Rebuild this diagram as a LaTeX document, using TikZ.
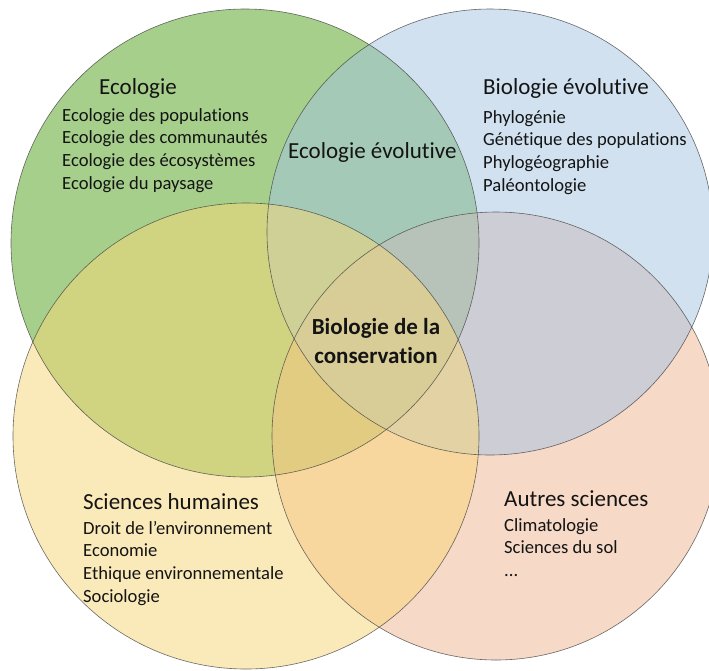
\documentclass[tikz,border=0pt]{standalone}
\usepackage{fontspec}
\setmainfont[Ligatures={NoCommon}]{Carlito}
\definecolor{cgreen}{RGB}{81,161,27}
\definecolor{cblue}{RGB}{165,197,227}
\definecolor{cyellow}{RGB}{249,215,117}
\definecolor{corange}{RGB}{239,181,145}
\definecolor{cline}{RGB}{70,70,70}
\definecolor{ctext}{RGB}{20,20,20}
\tikzset{
  venn/.style={fill=#1, fill opacity=0.5, draw=none},
  vennline/.style={draw=cline, line width=0.6pt, draw opacity=0.8},
  title/.style={anchor=base west, inner sep=0pt, font=\fontsize{23}{28}\selectfont, text=ctext},
  item/.style={anchor=base west, inner sep=0pt, font=\fontsize{18.6}{22.7}\selectfont, text=ctext},
  centre/.style={anchor=base, inner sep=0pt, font=\fontsize{23}{28}\selectfont\bfseries, text=ctext}
}
\begin{document}
\begin{tikzpicture}[x=1pt,y=-1pt]
\useasboundingbox (0,0) rectangle (709,670);
\fill[white] (0,0) rectangle (709,670);
\begin{scope}
\clip (0,0) rectangle (709,670);
\fill[venn=cgreen] (245,243) circle[radius=234pt];
\fill[venn=corange] (496,436) circle[radius=224pt];
\fill[venn=cblue] (490,232) circle[radius=223pt];
\fill[venn=cyellow] (246,436) circle[radius=233pt];
\draw[vennline] (245,243) circle[radius=234pt];
\draw[vennline] (496,436) circle[radius=224pt];
\draw[vennline] (490,232) circle[radius=223pt];
\draw[vennline] (246,436) circle[radius=233pt];
\end{scope}
% Ecologie
\node[title] (eco) at (99,94) {Ecologie};
\node[item] (eco1) at (62,121) {Ecologie des populations};
\node[item] (eco2) at (62,143.7) {Ecologie des communautés};
\node[item] (eco3) at (62,166.4) {Ecologie des écosystèmes};
\node[item] (eco4) at (62,189.1) {Ecologie du paysage};
% Ecologie evolutive
\node[title] (ecoevo) at (288,158) {Ecologie évolutive};
% Biologie evolutive
\node[title] (bio) at (483,94) {Biologie évolutive};
\node[item] (bio1) at (483,123) {Phylogénie};
\node[item] (bio2) at (483,145.7) {Génétique des populations};
\node[item] (bio3) at (483,168.4) {Phylogéographie};
\node[item] (bio4) at (483,191.1) {Paléontologie};
% centre
\node[centre] (cons1) at (376,334) {Biologie de la};
\node[centre] (cons2) at (376,363) {conservation};
% Sciences humaines
\node[title] (sh) at (83,509) {Sciences humaines};
\node[item] (sh1) at (83,534) {Droit de l’environnement};
\node[item] (sh2) at (83,556.7) {Economie};
\node[item] (sh3) at (83,579.4) {Ethique environnementale};
\node[item] (sh4) at (83,602.1) {Sociologie};
% Autres sciences
\node[title] (as) at (504,506) {Autres sciences};
\node[item] (as1) at (504,531) {Climatologie};
\node[item] (as2) at (504,553.5) {Sciences du sol};
\node[item] (as3) at (504,576) {...};
\end{tikzpicture}
\end{document}
